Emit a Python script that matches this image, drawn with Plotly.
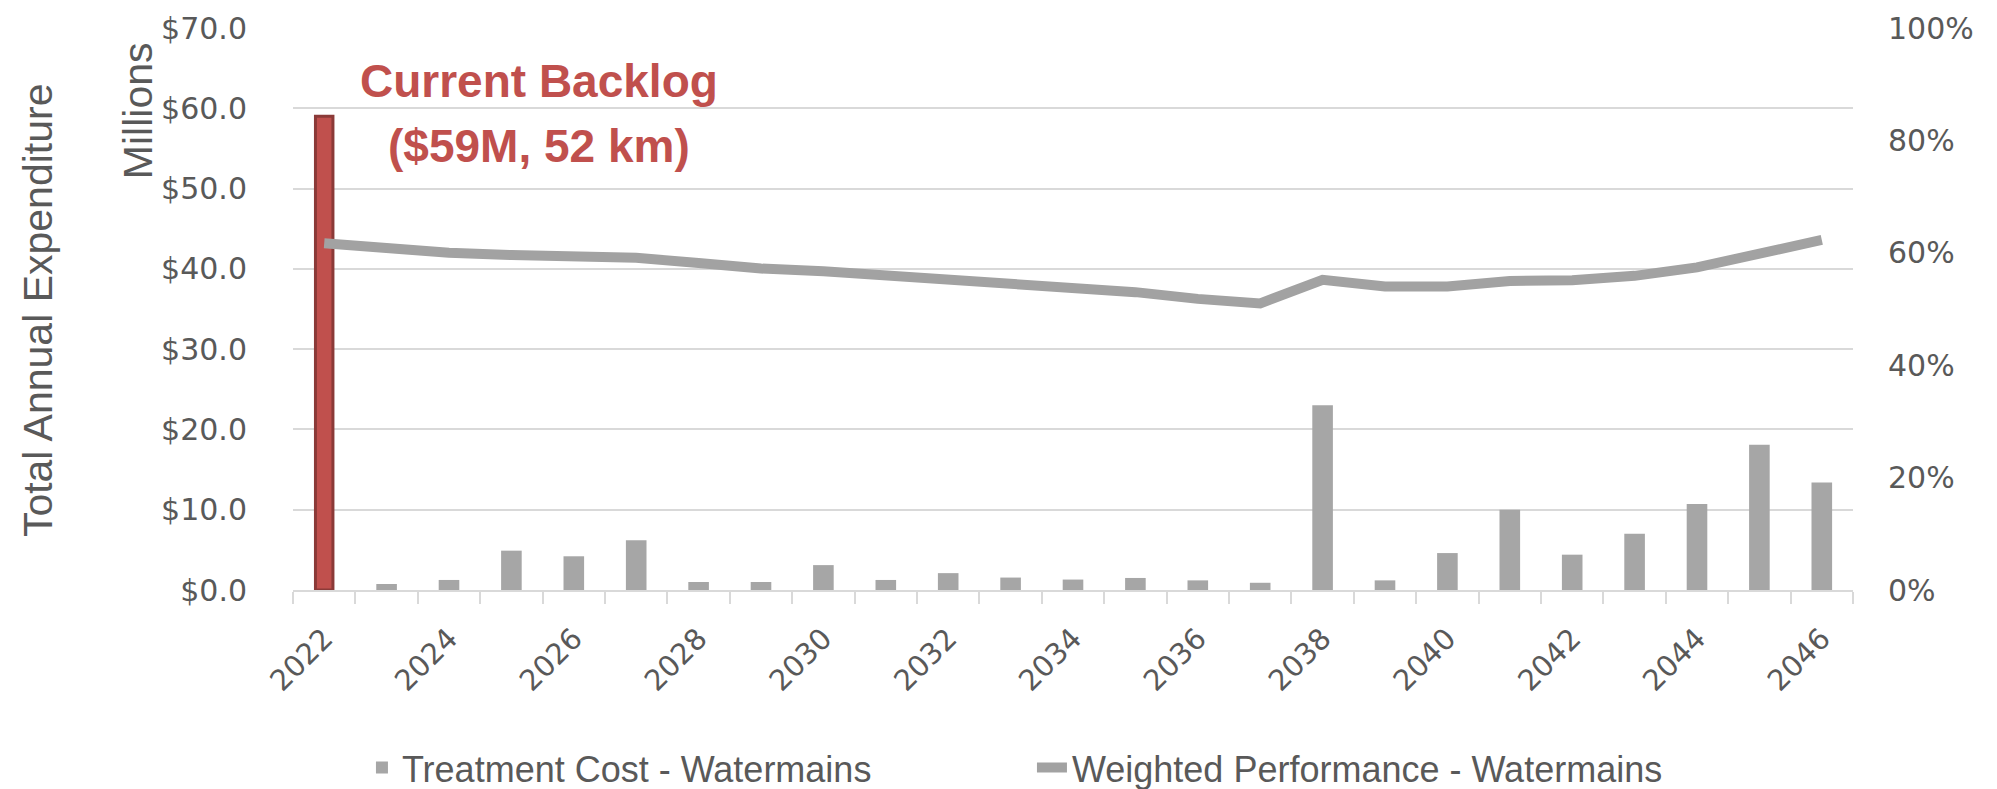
import plotly.graph_objects as go

years = list(range(2022, 2047))
backlog_year = [2022]
backlog_value = [59.0]
treatment_cost = [0.0, 0.75, 1.25, 4.9, 4.2, 6.2, 1.0, 1.0, 3.1, 1.25, 2.1, 1.55,
                  1.3, 1.5, 1.2, 0.9, 23.0, 1.2, 4.6, 10.0, 4.4, 7.0, 10.7, 18.1, 13.4]
performance = [0.617, 0.607, 0.600, 0.596, 0.592, 0.591, 0.582, 0.572, 0.567, 0.560,
               0.553, 0.546, 0.535, 0.530, 0.518, 0.510, 0.552, 0.540, 0.540, 0.550,
               0.551, 0.559, 0.574, 0.599, 0.623]
year_ticks = list(range(2022, 2047, 2))

GREY = "#A6A6A6"
TXT = "#595959"
RED = "#C0504D"
SANS = "Liberation Sans, Arial, sans-serif"
WIDE = "DejaVu Sans, Verdana, sans-serif"

fig = go.Figure()
fig.add_trace(go.Bar(x=years, y=treatment_cost, name="Treatment Cost - Watermains",
                     marker=dict(color=GREY, line=dict(width=0)), width=0.33))
fig.add_trace(go.Bar(x=backlog_year, y=backlog_value, name="Current Backlog", showlegend=False,
                     marker=dict(color=RED, line=dict(color="#8B3A38", width=3)), width=0.28))
fig.add_trace(go.Scatter(x=years, y=performance, name="Weighted Performance - Watermains",
                         mode="lines", yaxis="y2", line=dict(color="#A2A2A2", width=10)))

fig.update_layout(
    width=1997, height=789,
    margin=dict(l=285, r=152, t=20, b=207, autoexpand=False),
    paper_bgcolor="white", plot_bgcolor="white",
    barmode="overlay",
    showlegend=True,
    legend=dict(orientation="h", x=0.0442, y=-0.316, xanchor="left", yanchor="middle",
                font=dict(family=SANS, size=36, color=TXT),
                entrywidth=625, entrywidthmode="pixels", traceorder="normal"),
    xaxis=dict(range=[2021.5, 2046.5], tickmode="array", tickvals=year_ticks,
               tickangle=-45, ticks="", showgrid=False, zeroline=False,
               showline=True, linecolor="#D9D9D9", linewidth=2, automargin=False,
               tickfont=dict(family=WIDE, size=29, color=TXT), ticklabelstandoff=18,
               minor=dict(tickmode="linear", tick0=2021.5, dtick=1, ticks="outside",
                          ticklen=12, tickcolor="#D9D9D9", tickwidth=2, showgrid=False)),
    yaxis=dict(range=[0, 70], dtick=10, tickprefix="$", tickformat=".1f",
               showgrid=True, gridcolor="#D9D9D9", gridwidth=2, zeroline=False,
               ticks="", ticklabelstandoff=45, automargin=False,
               tickfont=dict(family=WIDE, size=30, color=TXT)),
    yaxis2=dict(range=[0, 1], dtick=0.2, tickformat=".0%", overlaying="y", side="right",
                showgrid=False, zeroline=False, ticks="", ticklabelstandoff=34, automargin=False,
                tickfont=dict(family=WIDE, size=30, color=TXT)),
    annotations=[
        dict(text="Total Annual Expenditure", xref="paper", yref="paper", x=0, y=0.498,
             xanchor="center", yanchor="middle", xshift=-255, textangle=-90, showarrow=False,
             font=dict(family=SANS, size=41, color=TXT)),
        dict(text="Millions", xref="paper", yref="paper", x=0, y=0.852,
             xanchor="center", yanchor="middle", xshift=-155, textangle=-90, showarrow=False,
             font=dict(family=SANS, size=41, color=TXT)),
        dict(text="<b>Current Backlog</b>", xref="paper", yref="paper", x=0.158, y=0.906,
             xanchor="center", yanchor="middle", showarrow=False,
             font=dict(family=SANS, size=46, color=RED)),
        dict(text="<b>($59M, 52 km)</b>", xref="paper", yref="paper", x=0.158, y=0.79,
             xanchor="center", yanchor="middle", showarrow=False,
             font=dict(family=SANS, size=46, color=RED)),
    ],
)

fig.write_html("out.html")
